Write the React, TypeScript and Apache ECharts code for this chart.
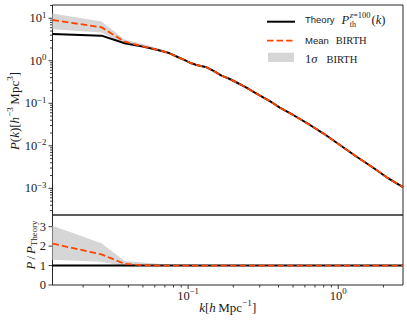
import React, { useEffect, useRef } from "react";
import * as echarts from "echarts";

// ---- data ----
const kValues = [0.0125, 0.0265, 0.0378, 0.05, 0.0628, 0.0736, 0.0858, 0.0951, 0.1026, 0.1138, 0.1327, 0.1468, 0.167, 0.1897, 0.2154, 0.2449, 0.2783, 0.3162, 0.3597, 0.4083, 0.501, 0.648, 0.794, 1.026, 1.327, 1.711, 2.102, 2.7];
const pTheory = [4.27, 3.9, 2.58, 2.15, 1.8, 1.55, 1.21, 1.04, 0.902, 0.797, 0.703, 0.585, 0.446, 0.373, 0.296, 0.233, 0.178, 0.138, 0.106, 0.0788, 0.0531, 0.0309, 0.0197, 0.01044, 0.00554, 0.00305, 0.00182, 0.00107];
const pMean = [9.1, 6.14, 2.81, 2.19, 1.8, 1.55, 1.21, 1.04, 0.902, 0.797, 0.703, 0.585, 0.446, 0.373, 0.296, 0.233, 0.178, 0.138, 0.106, 0.0788, 0.0531, 0.0309, 0.0197, 0.01044, 0.00554, 0.00305, 0.00182, 0.00107];
const pSigmaHigh = [13.0, 8.35, 3.17, 2.49, 1.96, 1.66, 1.27, 1.08, 0.934, 0.821, 0.724, 0.6, 0.457, 0.38, 0.302, 0.238, 0.181, 0.14, 0.1076, 0.08, 0.0536, 0.0312, 0.0199, 0.01054, 0.0056, 0.00308, 0.00184, 0.00108];
const pSigmaLow = [5.55, 4.64, 2.45, 2.06, 1.75, 1.51, 1.186, 1.019, 0.884, 0.781, 0.689, 0.573, 0.437, 0.367, 0.292, 0.2295, 0.1753, 0.136, 0.1044, 0.078, 0.0526, 0.0306, 0.0195, 0.01034, 0.00548, 0.00302, 0.0018, 0.00106];

const kRange = [0.0125, 2.7];
const pRange = [2.36e-4, 20.5];
const ratioRange = [0, 3.6];

const xMajorTicks = [0.1, 1];
const xMajorExp = ["\u22121", "0"];
const xMinorTicks = [0.02, 0.03, 0.04, 0.05, 0.06, 0.07, 0.08, 0.09, 0.2, 0.3, 0.4, 0.5, 0.6, 0.7, 0.8, 0.9, 2];
const yMajorTicks = [1e-3, 1e-2, 1e-1, 1, 10];
const yMajorExp = ["\u22123", "\u22122", "\u22121", "0", "1"];
const yMinorMult = [2, 3, 4, 5, 6, 7, 8, 9];
const yMinorDecades = [1e-4, 1e-3, 1e-2, 1e-1, 1, 10];
const ratioTicks = [0, 1, 2, 3];
const ratioTickLabels = ["0", "1", "2", "3"];

const COLOR_MEAN = "#ff4500";
const COLOR_BAND = "#d6d6d6";
const TEXT = "#1a1a1a";
const SERIF = "'Liberation Serif', 'Times New Roman', serif";
const SANS = "'Liberation Sans', Arial, sans-serif";

type Run = { t: string; size: number; font?: string; italic?: boolean; dy?: number; gap?: number; hold?: boolean };

let mctx: CanvasRenderingContext2D | null = null;
function measure(r: Run): number {
  if (!mctx) mctx = document.createElement("canvas").getContext("2d");
  mctx!.font = `${r.italic ? "italic " : ""}${r.size}px ${r.font ?? SERIF}`;
  return mctx!.measureText(r.t).width;
}

function label(runs: Run[], x: number, y: number, align: "left" | "center" | "right", rotation = 0) {
  let cx = 0;
  const placed: any[] = runs.map((r) => {
    cx += r.gap ?? 0;
    const w = measure(r);
    const el = {
      type: "text",
      x: cx,
      y: r.dy ?? 0,
      silent: true,
      style: {
        text: r.t,
        fontSize: r.size,
        fontFamily: r.font ?? SERIF,
        fontStyle: r.italic ? "italic" : "normal",
        fill: TEXT,
        align: "left",
        verticalAlign: "middle",
        textAlign: "left",
        textVerticalAlign: "middle",
      },
    };
    if (!r.hold) cx += w;
    return el;
  });
  const total = cx;
  const shift = align === "left" ? 0 : align === "center" ? -total / 2 : -total;
  placed.forEach((p) => (p.x += shift));
  return { type: "group", x, y, rotation, silent: true, children: placed };
}

function tickLine(x1: number, y1: number, x2: number, y2: number) {
  return { type: "line", silent: true, shape: { x1, y1, x2, y2 }, style: { stroke: "#262626", lineWidth: 0.9 } };
}

function band(xIdx: number, yIdx: number, low: number[], high: number[]) {
  return {
    type: "custom",
    xAxisIndex: xIdx,
    yAxisIndex: yIdx,
    data: [[kValues[0], low[0]]],
    silent: true,
    clip: true,
    z: 1,
    renderItem: (_p: any, api: any) => {
      const up = kValues.map((k, i) => api.coord([k, high[i]]));
      const lo = kValues.map((k, i) => api.coord([k, low[i]])).reverse();
      return { type: "polygon", shape: { points: up.concat(lo) }, style: { fill: COLOR_BAND, stroke: null } };
    },
  };
}

export default function App() {
  const ref = useRef<HTMLDivElement>(null);
  useEffect(() => {
    if (!ref.current) return;
    const chart = echarts.init(ref.current, null, { renderer: "svg" });
    const hidden = { axisLine: { show: false }, axisTick: { show: false }, axisLabel: { show: false }, splitLine: { show: false } };
    const ratio = (v: number[]) => v.map((x, i) => x / pTheory[i]);
    const pair = (v: number[]) => kValues.map((k, i) => [k, v[i]]);
    const gridStyle = { show: true, borderColor: "#262626", borderWidth: 1, backgroundColor: "transparent" };
    chart.setOption({
      animation: false,
      grid: [
        { left: 52.5, top: 5, width: 350.5, height: 210, ...gridStyle },
        { left: 52.5, top: 215, width: 350.5, height: 70, ...gridStyle },
      ],
      xAxis: [
        { type: "log", logBase: 10, gridIndex: 0, min: kRange[0], max: kRange[1], ...hidden },
        { type: "log", logBase: 10, gridIndex: 1, min: kRange[0], max: kRange[1], ...hidden },
      ],
      yAxis: [
        { type: "log", logBase: 10, gridIndex: 0, min: pRange[0], max: pRange[1], ...hidden },
        { type: "value", gridIndex: 1, min: ratioRange[0], max: ratioRange[1], ...hidden },
      ],
      series: [
        band(0, 0, pSigmaLow, pSigmaHigh),
        { type: "line", xAxisIndex: 0, yAxisIndex: 0, data: pair(pTheory), symbol: "none", z: 2, lineStyle: { color: "#000", width: 2 } },
        { type: "line", xAxisIndex: 0, yAxisIndex: 0, data: pair(pMean), symbol: "none", z: 3, lineStyle: { color: COLOR_MEAN, width: 1.8, type: [6.5, 3] } },
        band(1, 1, ratio(pSigmaLow), ratio(pSigmaHigh)),
        { type: "line", xAxisIndex: 1, yAxisIndex: 1, data: pair(ratio(pTheory)), symbol: "none", z: 2, lineStyle: { color: "#000", width: 2 } },
        { type: "line", xAxisIndex: 1, yAxisIndex: 1, data: pair(ratio(pMean)), symbol: "none", z: 3, lineStyle: { color: COLOR_MEAN, width: 1.8, type: [6.5, 3] } },
      ],
    });

    const px = (k: number) => (chart.convertToPixel({ gridIndex: 1 }, [k, 1]) as number[])[0];
    const pyTop = (p: number) => (chart.convertToPixel({ gridIndex: 0 }, [1, p]) as number[])[1];
    const pyBot = (r: number) => (chart.convertToPixel({ gridIndex: 1 }, [1, r]) as number[])[1];
    const left = 52.5;
    const bottom = 285;
    const els: any[] = [];

    // x ticks + labels
    xMinorTicks.forEach((k) => els.push(tickLine(px(k), bottom, px(k), bottom + 2.5)));
    xMajorTicks.forEach((k, i) => {
      const x = px(k);
      els.push(tickLine(x, bottom, x, bottom + 4));
      els.push(label([{ t: "10", size: 12.5 }, { t: xMajorExp[i], size: 8.8, dy: -4.2 }], x, 295.5, "center"));
    });
    // top y ticks + labels
    yMinorDecades.forEach((d) =>
      yMinorMult.forEach((m) => {
        const v = d * m;
        if (v > pRange[0] && v < pRange[1]) {
          const y = pyTop(v);
          els.push(tickLine(left - 2.5, y, left, y));
        }
      })
    );
    yMajorTicks.forEach((v, i) => {
      const y = pyTop(v);
      els.push(tickLine(left - 4, y, left, y));
      els.push(label([{ t: "10", size: 12.5 }, { t: yMajorExp[i], size: 8.8, dy: -3.5 }], 46.5, y, "right"));
    });
    // bottom y ticks
    ratioTicks.forEach((v, i) => {
      const y = pyBot(v);
      els.push(tickLine(left - 4, y, left, y));
      els.push(label([{ t: ratioTickLabels[i], size: 12.5 }], 46, y, "right"));
    });

    // axis titles
    els.push(
      label(
        [
          { t: "k", size: 13, italic: true },
          { t: "[", size: 13 },
          { t: "h", size: 13, italic: true },
          { t: "Mpc", size: 13, gap: 2.5 },
          { t: "\u22121", size: 9.2, dy: -4.5 },
          { t: "]", size: 13 },
        ],
        227.7,
        307,
        "center"
      )
    );
    els.push(
      label(
        [
          { t: "P", size: 13, italic: true },
          { t: "(", size: 13 },
          { t: "k", size: 13, italic: true },
          { t: ")[", size: 13 },
          { t: "h", size: 13, italic: true },
          { t: "\u22123", size: 9.2, dy: -4.5 },
          { t: "Mpc", size: 13, gap: 2.5 },
          { t: "3", size: 9.2, dy: -4.5 },
          { t: "]", size: 13 },
        ],
        14.5,
        111,
        "center",
        Math.PI / 2
      )
    );
    els.push(
      label(
        [
          { t: "P", size: 13, italic: true },
          { t: "/", size: 13, gap: 2 },
          { t: "P", size: 13, italic: true, gap: 2 },
          { t: "Theory", size: 8.8, dy: 3.5 },
        ],
        30,
        245,
        "center",
        Math.PI / 2
      )
    );

    // legend
    els.push({ type: "line", silent: true, shape: { x1: 267, y1: 21.7, x2: 295, y2: 21.7 }, style: { stroke: "#000", lineWidth: 2 } });
    els.push({ type: "line", silent: true, shape: { x1: 267, y1: 40.7, x2: 295, y2: 40.7 }, style: { stroke: COLOR_MEAN, lineWidth: 1.8, lineDash: [6.5, 3] } });
    els.push({ type: "rect", silent: true, shape: { x: 268, y: 52.7, width: 26, height: 9.3 }, style: { fill: COLOR_BAND } });
    els.push(
      label(
        [
          { t: "Theory", size: 9.5, font: SANS },
          { t: "P", size: 12.5, italic: true, gap: 7 },
          { t: "th", size: 8, dy: 4.6, hold: true, gap: 0.5 },
          { t: "z", size: 8.5, italic: true, dy: -5 },
          { t: "=100", size: 8.5, dy: -5 },
          { t: "(", size: 12.5, gap: 1 },
          { t: "k", size: 12.5, italic: true },
          { t: ")", size: 12.5 },
        ],
        305,
        19.5,
        "left"
      )
    );
    els.push(label([{ t: "Mean", size: 9.5, font: SANS }, { t: "BIRTH", size: 10.5, gap: 7 }], 305, 40.5, "left"));
    els.push(label([{ t: "1", size: 12.5 }, { t: "\u03c3", size: 12.5, italic: true }, { t: "BIRTH", size: 10.5, gap: 9 }], 305, 59, "left"));

    chart.setOption({ graphic: { elements: els } });
    return () => chart.dispose();
  }, []);
  return <div ref={ref} style={{ position: "absolute", left: 0, top: 0, width: 407, height: 325 }} />;
}
